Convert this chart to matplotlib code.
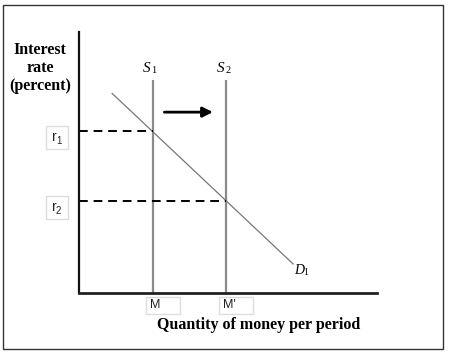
import matplotlib
matplotlib.use("Agg")
import matplotlib.pyplot as plt
from matplotlib.patches import Rectangle
from matplotlib.transforms import IdentityTransform

# ---- data (economic units) ----
supply_q = [1.0, 2.0]            # M, M'
supply_labels = ["S", "S"]
supply_subs = ["1", "2"]
q_labels = ["M", "M'"]
rates = [4.4, 2.5]               # r1, r2
rate_labels = ["r", "r"]
rate_subs = ["1", "2"]
demand_q = [0.45, 2.91]
demand_r = [5.43, 0.79]
supply_top = 5.79
shift_arrow_q = [1.16, 1.82]
shift_arrow_r = 4.92
x_max, y_max = 4.05, 7.1

W, H = 450, 353
fig = plt.figure(figsize=(W / 100, H / 100), dpi=100)
fig.patch.set_facecolor("white")

# outer border
fig.add_artist(Rectangle((3 / W, 1 - 349 / H), 440 / W, 344 / H, transform=fig.transFigure,
                         fill=False, edgecolor="#333333", lw=1.0))

ax = fig.add_axes([79 / W, 1 - 293 / H, (377 - 79) / W, (293 - 32) / H])
ax.set_xlim(0, x_max)
ax.set_ylim(0, y_max)
ax.patch.set_alpha(0)
for s in ["top", "right"]:
    ax.spines[s].set_visible(False)
ax.spines["left"].set_linewidth(1.6)
ax.spines["bottom"].set_linewidth(2.0)
ax.spines["left"].set_color("#111111")
ax.spines["bottom"].set_color("#222222")
ax.set_xticks([])
ax.set_yticks([])

serif = "Liberation Serif"
sans = "Liberation Sans"

# supply curves
for q, lab, sub in zip(supply_q, supply_labels, supply_subs):
    ax.plot([q, q], [0, supply_top], color="#8a8a8a", lw=1.6, solid_capstyle="butt")
    ax.annotate(lab, (q, supply_top), xytext=(-2, 5), textcoords="offset pixels",
                ha="right", va="bottom", fontsize=11, family=serif, style="italic")
    ax.annotate(sub, (q, supply_top), xytext=(-1, 5), textcoords="offset pixels",
                ha="left", va="bottom", fontsize=7.5, family=serif)

# demand curve
ax.plot(demand_q, demand_r, color="#777777", lw=0.9)
ax.annotate("D", (demand_q[1], demand_r[1]), xytext=(1, -13), textcoords="offset pixels",
            ha="left", va="bottom", fontsize=10, family=serif, style="italic")
ax.annotate("1", (demand_q[1], demand_r[1]), xytext=(10, -13), textcoords="offset pixels",
            ha="left", va="bottom", fontsize=7, family=serif)

# dashed rate lines
for q, r in zip(supply_q, rates):
    ax.plot([0, q], [r, r], color="black", lw=1.4, dashes=(4.5, 3))

# shift arrow
ax.annotate("", xy=(shift_arrow_q[1], shift_arrow_r), xytext=(shift_arrow_q[0], shift_arrow_r),
            arrowprops=dict(arrowstyle="-|>,head_length=0.6,head_width=0.3", color="black", lw=2,
                            shrinkA=0, shrinkB=0))

fig.canvas.draw()
ident = IdentityTransform()

def box_label(px, py, w, h, main, sub, tx_off, fs):
    # px, py: display coords of box lower-left
    fig.add_artist(Rectangle((px, py), w, h, transform=ident, facecolor="white",
                             edgecolor="#dddddd", lw=1.0))
    fig.text(px + tx_off, py + h / 2 + 1, main, transform=ident, ha="left", va="center",
             fontsize=fs, family=sans, color="#222222")
    if sub:
        fig.text(px + tx_off + 4, py + h / 2 - 3, sub, transform=ident, ha="left", va="center",
                 fontsize=7, family=sans, color="#222222")

# rate label boxes
for r, lab, sub in zip(rates, rate_labels, rate_subs):
    x0, y0 = ax.transData.transform((0, r))
    box_label(x0 - 33, y0 - 18, 22, 23, lab, sub, 6, 10)

# quantity label boxes
for q, lab in zip(supply_q, q_labels):
    x0, y0 = ax.transData.transform((q, 0))
    box_label(x0 - 7, y0 - 21, 34, 17, lab, None, 4, 9)

# axis titles
fig.text(40 / W, 1 - 42 / H, "Interest\nrate\n(percent)", ha="center", va="top",
         fontsize=11.5, family=serif, weight="bold", linespacing=1.15)
fig.text(259 / W, 1 - 325 / H, "Quantity of money per period", ha="center", va="center",
         fontsize=11.5, family=serif, weight="bold")

fig.savefig("out.png", dpi=100, facecolor="white")
